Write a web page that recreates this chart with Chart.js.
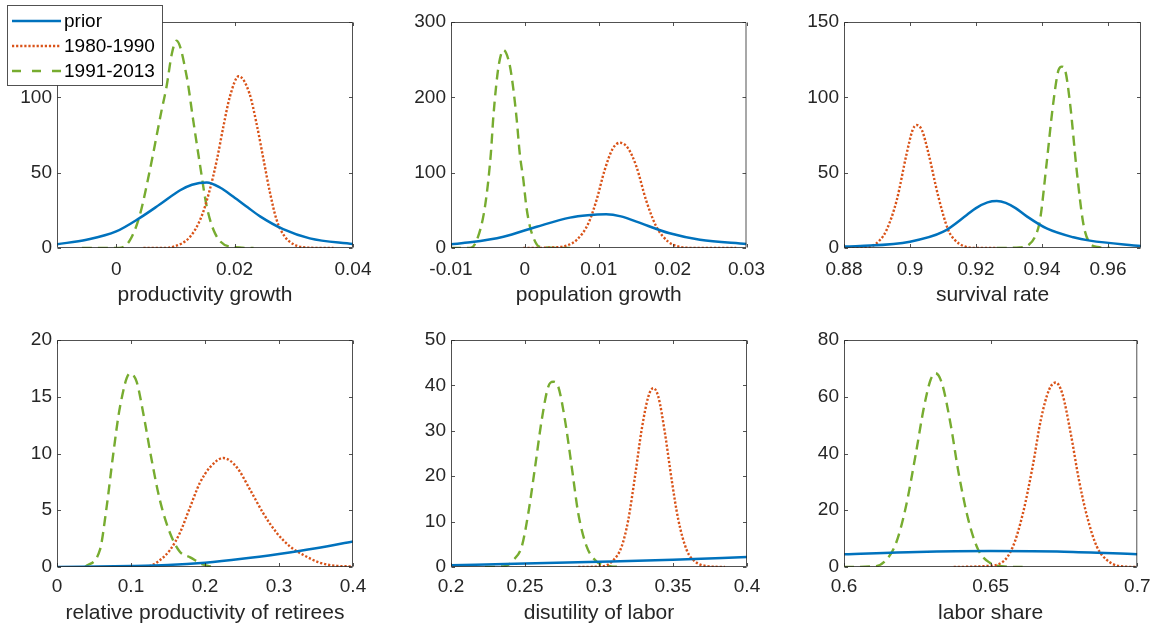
<!DOCTYPE html>
<html>
<head>
<meta charset="utf-8">
<script src="https://cdn.jsdelivr.net/npm/chart.js@4/dist/chart.umd.min.js"></script>
<style>
  html, body { margin: 0; padding: 0; background: #ffffff; }
  #fig { position: relative; width: 1159px; height: 630px; background: #ffffff; overflow: hidden; }
  #fig canvas { position: absolute; }
</style>
</head>
<body>
<div id="fig"></div>
<script>
// ---------------- DATA ----------------
const seriesNames = ['prior', '1980-1990', '1991-2013'];
const axisTitles = ['productivity growth', 'population growth', 'survival rate',
                    'relative productivity of retirees', 'disutility of labor', 'labor share'];

const xRanges = [[-0.01, 0.04], [-0.01, 0.03], [0.88, 0.97], [0, 0.4], [0.2, 0.4], [0.6, 0.7]];
const yRanges = [[0, 150], [0, 300], [0, 150], [0, 20], [0, 50], [0, 80]];

const xTicks1 = [0, 0.02, 0.04];
const xTicks2 = [-0.01, 0, 0.01, 0.02, 0.03];
const xTicks3 = [0.88, 0.9, 0.92, 0.94, 0.96];
const xTicks4 = [0, 0.1, 0.2, 0.3, 0.4];
const xTicks5 = [0.2, 0.25, 0.3, 0.35, 0.4];
const xTicks6 = [0.6, 0.65, 0.7];
const yTicks1 = [0, 50, 100, 150];
const yTicks2 = [0, 100, 200, 300];
const yTicks3 = [0, 50, 100, 150];
const yTicks4 = [0, 5, 10, 15, 20];
const yTicks5 = [0, 10, 20, 30, 40, 50];
const yTicks6 = [0, 20, 40, 60, 80];

// Panel 1: productivity growth
const p1PriorX = [-0.01, -0.005, 0, 0.004, 0.0074, 0.0108, 0.0128, 0.0153, 0.0176, 0.0198, 0.0222, 0.0243, 0.0282, 0.0327, 0.04];
const p1PriorY = [2.5, 5.5, 11, 20, 29, 38.3, 42, 43.5, 40, 34, 27, 21, 12.5, 6.4, 2.6];
const p1EarlyX = [0.0046, 0.0078, 0.0097, 0.0125, 0.0144, 0.0158, 0.017, 0.0181, 0.0192, 0.0207, 0.0225, 0.0237, 0.0249, 0.026, 0.0271, 0.0283, 0.0299, 0.0325, 0.0367];
const p1EarlyY = [0, 0, 0.9, 7.5, 20.8, 38.5, 58.4, 80.5, 100.4, 114, 102.7, 82.7, 58.4, 36.3, 18.6, 8.6, 2.6, 0.2, 0];
const p1LateX = [-0.0058, 0.0005, 0.0023, 0.004, 0.0057, 0.0077, 0.0085, 0.0094, 0.0102, 0.0119, 0.013, 0.0142, 0.0153, 0.0167, 0.0192, 0.0232];
const p1LateY = [0, 0, 5, 22, 52, 92, 107, 129, 137.6, 114, 85, 54, 27.4, 9.7, 0.9, 0];

// Panel 2: population growth
const p2PriorX = [-0.01, -0.0074, -0.0029, 0.0016, 0.0061, 0.0085, 0.011, 0.013, 0.0151, 0.0196, 0.0237, 0.03];
const p2PriorY = [5, 7.5, 15, 28.3, 40.3, 43.5, 44.7, 42, 35, 19.5, 11, 5.3];
const p2EarlyX = [-0.0002, 0.0043, 0.0059, 0.007, 0.0086, 0.0097, 0.0108, 0.0119, 0.0129, 0.014, 0.0151, 0.0164, 0.0178, 0.0194, 0.0205, 0.0222, 0.0286];
const p2EarlyY = [0, 0.9, 4, 10.6, 32.7, 63.7, 103.5, 132, 139.8, 132, 108, 63.7, 28.3, 8.4, 2.7, 0.2, 0];
const p2LateX = [-0.01, -0.0074, -0.0065, -0.0054, -0.0046, -0.0043, -0.0039, -0.0035, -0.0029, -0.0021, -0.0016, -0.0011, -0.0007, -0.0002, 0.0002, 0.0007, 0.0014, 0.002, 0.0061];
const p2LateY = [0, 0, 10.6, 55, 126, 170, 214, 245, 263, 245, 214, 170, 126, 90, 55, 28, 8.4, 1.8, 0];

// Panel 3: survival rate
const p3PriorX = [0.88, 0.8849, 0.9, 0.9101, 0.9172, 0.92, 0.9235, 0.9263, 0.929, 0.932, 0.9354, 0.9414, 0.9495, 0.9545, 0.97];
const p3PriorY = [1, 1.3, 4.2, 10.8, 21.9, 26.5, 30.3, 31.2, 30, 26.5, 21, 13, 7.1, 4.9, 1.3];
const p3EarlyX = [0.88, 0.8879, 0.8909, 0.8929, 0.896, 0.899, 0.9008, 0.902, 0.9036, 0.9056, 0.9086, 0.9116, 0.9136, 0.9162, 0.9202, 0.9263];
const p3EarlyY = [0, 0.9, 5.3, 11.9, 31.9, 62.8, 78.3, 81.6, 78.3, 62.8, 34, 11.9, 5.3, 1.3, 0, 0];
const p3LateX = [0.9263, 0.9333, 0.9359, 0.9379, 0.9394, 0.9414, 0.9434, 0.945, 0.946, 0.947, 0.9485, 0.9505, 0.9525, 0.954, 0.9568, 0.9606];
const p3LateY = [0, 0.4, 2, 7.5, 18.6, 56.2, 96, 118, 120.4, 118, 96, 51.8, 16.4, 5, 0.7, 0];

// Panel 4: relative productivity of retirees
const p4PriorX = [0, 0.1, 0.15, 0.2, 0.25, 0.3, 0.35, 0.4];
const p4PriorY = [0, 0.08, 0.17, 0.38, 0.72, 1.15, 1.65, 2.25];
const p4EarlyX = [0.1077, 0.126, 0.139, 0.1527, 0.166, 0.18, 0.193, 0.207, 0.2248, 0.2428, 0.261, 0.279, 0.297, 0.315, 0.333, 0.355, 0.378, 0.4];
const p4EarlyY = [0, 0.1, 0.6, 1.5, 3.0, 5.3, 7.4, 8.8, 9.6, 8.8, 6.8, 4.7, 3.0, 1.8, 1.06, 0.38, 0.1, 0.05];
const p4LateX = [0.0378, 0.058, 0.0671, 0.0761, 0.0851, 0.0986, 0.1077, 0.1167, 0.128, 0.139, 0.1527, 0.166, 0.18, 0.198, 0.211];
const p4LateY = [0, 1.5, 5.3, 10, 14.1, 17.05, 16.3, 13.5, 9.4, 5.9, 3.0, 1.35, 0.85, 0.2, 0];

// Panel 5: disutility of labor
const p5PriorX = [0.2, 0.25, 0.3, 0.35, 0.4];
const p5PriorY = [0.4, 0.75, 1.15, 1.6, 2.2];
const p5EarlyX = [0.286, 0.3029, 0.3097, 0.3153, 0.3198, 0.3243, 0.3288, 0.3333, 0.3367, 0.3401, 0.3446, 0.3491, 0.3536, 0.3593, 0.3649, 0.3728, 0.3851];
const p5EarlyY = [0, 0.2, 1.5, 4.5, 10.4, 19.9, 30.2, 37.5, 39.4, 37.5, 29.4, 19.2, 10.4, 3.7, 1.2, 0.2, 0];
const p5LateX = [0.223, 0.2365, 0.242, 0.2478, 0.2522, 0.2568, 0.2613, 0.2657, 0.2691, 0.2725, 0.277, 0.2816, 0.286, 0.2917, 0.2984, 0.3074, 0.314];
const p5LateY = [0, 0.2, 1.5, 4.5, 11.8, 22, 32.4, 39.7, 40.8, 39.7, 32.4, 22, 11.8, 4.5, 1.2, 0.2, 0];

// Panel 6: labor share
const p6PriorX = [0.6, 0.625, 0.65, 0.675, 0.7];
const p6PriorY = [4.5, 5.3, 5.6, 5.4, 4.5];
const p6EarlyX = [0.6374, 0.648, 0.6537, 0.6576, 0.661, 0.6643, 0.6671, 0.6699, 0.6722, 0.6744, 0.6773, 0.6801, 0.6829, 0.6862, 0.6896, 0.694, 0.7];
const p6EarlyY = [0, 0.3, 1.5, 7.2, 18.9, 35.3, 51.8, 62.4, 65, 61.2, 47.1, 30.7, 17.7, 7.2, 2.5, 0.3, 0];
const p6LateX = [0.6, 0.611, 0.6144, 0.6177, 0.6211, 0.6245, 0.6273, 0.6295, 0.6312, 0.6334, 0.6363, 0.6391, 0.6424, 0.6458, 0.6497, 0.6537, 0.6609];
const p6LateY = [0, 0.3, 2.5, 8.3, 21.2, 40, 56.5, 65.9, 68.3, 64.7, 50.6, 33, 16.6, 6, 1.5, 0.3, 0];

// ---------------- STYLE / LAYOUT ----------------
const FONT = "'Liberation Sans', Arial, Helvetica, sans-serif";
const TEXT = '#262626';
const AXIS = 'rgba(38,38,38,0.8)';
const styles = [
  { color: '#0072BD', dash: [], width: 2.5 },
  { color: '#D95319', dash: [2.2, 1.9], width: 2.4 },
  { color: '#77AC30', dash: [10, 6], width: 2.4 }
];
const cols = [
  { left: 0,   width: 390, yW: 57, padR: 37 },
  { left: 390, width: 385, yW: 61, padR: 28 },
  { left: 775, width: 384, yW: 69, padR: 18 }
];
const rows = [
  { top: 0,   height: 310, padT: 22, xH: 60, padB: 2, tickPad: 10 },
  { top: 318, height: 312, padT: 22, xH: 59, padB: 4, tickPad: 8.5 }
];

const panelX = [
  [p1PriorX, p1EarlyX, p1LateX], [p2PriorX, p2EarlyX, p2LateX], [p3PriorX, p3EarlyX, p3LateX],
  [p4PriorX, p4EarlyX, p4LateX], [p5PriorX, p5EarlyX, p5LateX], [p6PriorX, p6EarlyX, p6LateX]
];
const panelY = [
  [p1PriorY, p1EarlyY, p1LateY], [p2PriorY, p2EarlyY, p2LateY], [p3PriorY, p3EarlyY, p3LateY],
  [p4PriorY, p4EarlyY, p4LateY], [p5PriorY, p5EarlyY, p5LateY], [p6PriorY, p6EarlyY, p6LateY]
];
const panelXTicks = [xTicks1, xTicks2, xTicks3, xTicks4, xTicks5, xTicks6];
const panelYTicks = [yTicks1, yTicks2, yTicks3, yTicks4, yTicks5, yTicks6];

const fmt = v => String(Number(v.toFixed(6)));

// box with inward ticks on all four sides (MATLAB style)
const boxPlugin = {
  id: 'matlabBox',
  afterDatasetsDraw(chart) {
    const { ctx, chartArea: a, scales } = chart;
    const xs = scales.x, ys = scales.y;
    const L = a.left + 0.5, R = a.right - 0.5, T = a.top + 0.5, B = a.bottom - 0.5;
    const tl = 3.5;
    ctx.save();
    ctx.strokeStyle = AXIS;
    ctx.lineWidth = 1;
    ctx.beginPath();
    ctx.rect(L, T, R - L, B - T);
    xs.ticks.forEach(t => {
      const p = Math.round(xs.getPixelForValue(t.value)) + 0.5;
      ctx.moveTo(p, B); ctx.lineTo(p, B - tl);
      ctx.moveTo(p, T); ctx.lineTo(p, T + tl);
    });
    ys.ticks.forEach(t => {
      const p = Math.round(ys.getPixelForValue(t.value)) + 0.5;
      ctx.moveTo(L, p); ctx.lineTo(L + tl, p);
      ctx.moveTo(R, p); ctx.lineTo(R - tl, p);
    });
    ctx.stroke();
    ctx.restore();
  }
};

// MATLAB-like legend box in the upper-left of the first panel
const legendPlugin = {
  id: 'boxLegend',
  afterDraw(chart) {
    const ctx = chart.ctx;
    const bx = 7.5, by = 5.5, bw = 155, bh = 80;
    ctx.save();
    ctx.fillStyle = '#ffffff';
    ctx.fillRect(bx, by, bw, bh);
    ctx.strokeStyle = AXIS;
    ctx.lineWidth = 1;
    ctx.strokeRect(bx, by, bw, bh);
    chart.data.datasets.forEach((ds, i) => {
      const yy = 21 + i * 25;
      ctx.beginPath();
      ctx.strokeStyle = ds.borderColor;
      ctx.lineWidth = ds.borderWidth;
      ctx.setLineDash(i === 2 ? [9, 11] : ds.borderDash);
      ctx.moveTo(12, yy); ctx.lineTo(61, yy);
      ctx.stroke();
      ctx.setLineDash([]);
      ctx.fillStyle = '#000000';
      ctx.font = '19px ' + FONT;
      ctx.textBaseline = 'middle';
      ctx.textAlign = 'left';
      ctx.fillText(ds.label, 64, yy + 1);
    });
    ctx.restore();
  }
};

const fig = document.getElementById('fig');

for (let i = 0; i < 6; i++) {
  const c = cols[i % 3], r = rows[Math.floor(i / 3)];
  const canvas = document.createElement('canvas');
  canvas.width = c.width; canvas.height = r.height;
  canvas.style.left = c.left + 'px'; canvas.style.top = r.top + 'px';
  canvas.style.width = c.width + 'px'; canvas.style.height = r.height + 'px';
  fig.appendChild(canvas);

  const datasets = seriesNames.map((name, k) => ({
    label: name,
    data: panelX[i][k].map((x, j) => ({ x: x, y: panelY[i][k][j] })),
    borderColor: styles[k].color,
    borderWidth: styles[k].width,
    borderDash: styles[k].dash,
    borderCapStyle: 'butt',
    pointRadius: 0,
    fill: false,
    cubicInterpolationMode: 'monotone'
  }));
  const xt = panelXTicks[i], yt = panelYTicks[i];

  new Chart(canvas, {
    type: 'line',
    data: { datasets: datasets },
    plugins: i === 0 ? [boxPlugin, legendPlugin] : [boxPlugin],
    options: {
      responsive: false,
      animation: false,
      devicePixelRatio: 1,
      events: [],
      layout: { padding: { left: 0, right: c.padR, top: r.padT, bottom: r.padB } },
      plugins: { legend: { display: false }, tooltip: { enabled: false }, title: { display: false } },
      scales: {
        x: {
          type: 'linear',
          position: 'bottom',
          min: xRanges[i][0], max: xRanges[i][1],
          grid: { display: false, drawTicks: false },
          border: { display: false },
          afterBuildTicks: s => { s.ticks = xt.map(v => ({ value: v })); },
          afterFit: s => { s.height = r.xH; },
          ticks: {
            autoSkip: false, maxRotation: 0, minRotation: 0,
            padding: r.tickPad,
            color: TEXT,
            font: { family: FONT, size: 19 },
            callback: v => fmt(v)
          },
          title: {
            display: true, text: axisTitles[i], color: TEXT,
            font: { family: FONT, size: 21 },
            padding: { top: 0, bottom: 0 }
          }
        },
        y: {
          type: 'linear',
          position: 'left',
          min: yRanges[i][0], max: yRanges[i][1],
          grid: { display: false, drawTicks: false },
          border: { display: false },
          afterBuildTicks: s => { s.ticks = yt.map(v => ({ value: v })); },
          afterFit: s => { s.width = c.yW; },
          ticks: {
            autoSkip: false,
            padding: 5,
            color: TEXT,
            font: { family: FONT, size: 19 },
            callback: v => fmt(v)
          }
        }
      }
    }
  });
}
</script>
</body>
</html>
